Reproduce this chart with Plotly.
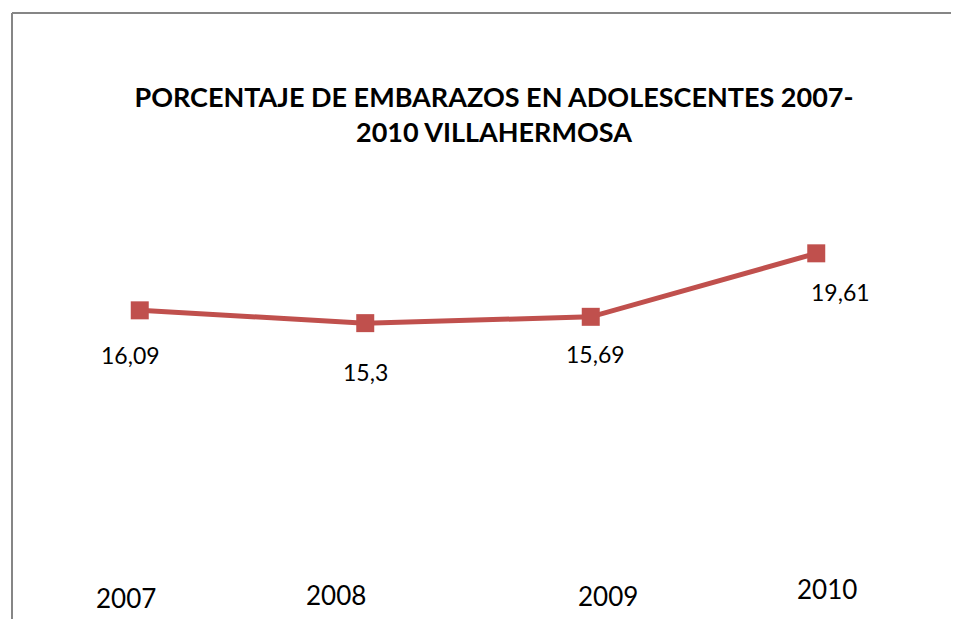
import plotly.graph_objects as go

years = ["2007", "2008", "2009", "2010"]
porcentaje = [16.09, 15.30, 15.69, 19.61]
etiquetas = ["16,09", "15,3", "15,69", "19,61"]

# per-label nudges (px), the original has hand-placed text boxes
lbl_dx = [-9, 0, 5, 24]
lbl_dy = [-45, -49, -37, -39]
yr_dx = [-14, -29, 17, 11]
yr_dy = [0, 3, 2, 9]

red = "#C0504D"
x = list(range(len(years)))

# page body has an 8px margin, so the figure is drawn 8px smaller
W, H, off = 951, 611, 8
L, R, T, B = 27 - off, 30, 165.5 - off, 47.5
pw, ph = W - L - R, H - T - B

fig = go.Figure()
fig.add_trace(go.Scatter(
    x=x, y=porcentaje, mode="lines+markers",
    line=dict(color=red, width=5),
    marker=dict(symbol="square", size=18, color=red),
    hoverinfo="skip", showlegend=False,
))

for i, t in enumerate(etiquetas):
    fig.add_annotation(x=x[i], y=porcentaje[i], text=t, showarrow=False,
                       xshift=lbl_dx[i], yshift=lbl_dy[i],
                       font=dict(family="Lato", size=23, color="black"))

for i, yr in enumerate(years):
    fig.add_annotation(x=x[i], y=0, xref="x", yref="paper", text=yr,
                       showarrow=False, xshift=yr_dx[i], yshift=-45 + yr_dy[i],
                       font=dict(family="Lato", size=26, color="black"))

# the chart frame (only the top and left edges are in view)
fx = (12 - off - L) / pw
fy = (H - B - (12 - off)) / ph
frame = dict(color="#868686", width=2)
fig.add_shape(type="line", xref="paper", yref="paper", x0=fx, x1=1.2, y0=fy, y1=fy, line=frame)
fig.add_shape(type="line", xref="paper", yref="paper", x0=fx, x1=fx, y0=-0.3, y1=fy, line=frame)

fig.update_layout(
    width=W, height=H,
    margin=dict(l=L, r=R, t=T, b=B),
    paper_bgcolor="white", plot_bgcolor="white",
    title=dict(text="<b>PORCENTAJE DE EMBARAZOS EN ADOLESCENTES 2007-<br>2010 VILLAHERMOSA</b>",
               x=(494 - off) / W, xanchor="center", y=1 - (107 - off) / H, yanchor="middle",
               font=dict(family="Lato", size=27, color="black")),
    xaxis=dict(range=[-0.5, 3.5], visible=False),
    yaxis=dict(range=[0, 25], visible=False),
)

fig.write_html("out.html")
